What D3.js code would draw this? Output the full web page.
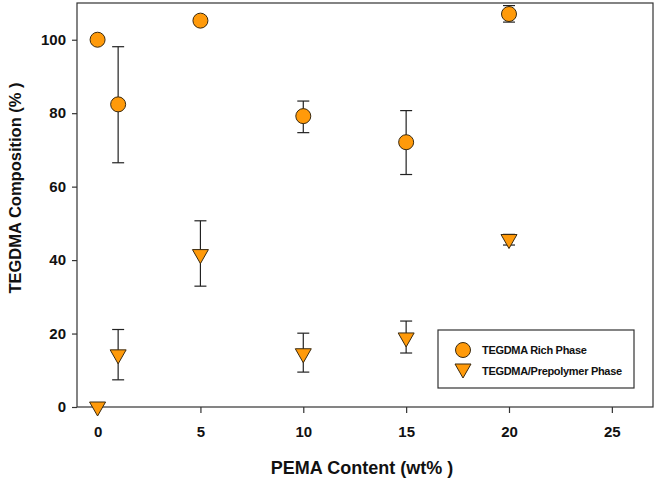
<!DOCTYPE html>
<html>
<head>
<meta charset="utf-8">
<script src="https://cdn.jsdelivr.net/npm/d3@7"></script>
<style>
  body { margin: 0; background: #fff; }
  text { font-family: "Liberation Sans", Arial, sans-serif; font-weight: bold; }
</style>
</head>
<body>
<script>
// PEMA content (wt%)
var pema = [0, 1, 5, 10, 15, 20];

// TEGDMA rich phase: mean, low, high
var richMean = [100, 82.4, 105.2, 79.2, 72.1, 107.0];
var richLow  = [100, 66.5, 105.2, 74.7, 63.3, 104.8];
var richHigh = [100, 98.1, 105.2, 83.3, 80.7, 109.3];

// TEGDMA/prepolymer phase
var preMean = [0, 14.2, 41.5, 14.5, 18.8, 45.6];
var preLow  = [0, 7.4, 32.9, 9.5, 14.7, 44.1];
var preHigh = [0, 21.1, 50.7, 20.1, 23.4, 47.0];

var xTicks = [0, 5, 10, 15, 20, 25];
var yTicks = [0, 20, 40, 60, 80, 100];

var fill = '#ff9a0a', edge = '#3a2a10', ink = '#333';

var svg = d3.select('body').append('svg').attr('width', 659).attr('height', 481);

var mLeft = 77, mRight = 653, mTop = 3, mBottom = 407;
var x = d3.scaleLinear().domain([-1, 27]).range([mLeft, mRight]);
var y = d3.scaleLinear().domain([0, 110]).range([mBottom, mTop]);

// frame
svg.append('rect')
  .attr('x', mLeft).attr('y', mTop)
  .attr('width', mRight - mLeft).attr('height', mBottom - mTop)
  .attr('fill', 'none').attr('stroke', ink).attr('stroke-width', 1.2);

var xAxis = svg.append('g').attr('transform', 'translate(0,' + mBottom + ')')
  .call(d3.axisBottom(x).tickValues(xTicks).tickSize(6).tickPadding(13));
var yAxis = svg.append('g').attr('transform', 'translate(' + mLeft + ',0)')
  .call(d3.axisLeft(y).tickValues(yTicks).tickSize(5).tickPadding(6));
[xAxis, yAxis].forEach(function(g) {
  g.select('.domain').remove();
  g.selectAll('line').attr('stroke', ink).attr('stroke-width', 1.2);
  g.selectAll('text').attr('font-size', 15).attr('fill', '#111')
    .style('font-family', '"Liberation Sans", Arial, sans-serif').style('font-weight', 'bold');
});

function errorBars(mean, lo, hi) {
  var g = svg.append('g').attr('stroke', '#222').attr('stroke-width', 1.2);
  pema.forEach(function(p, i) {
    if (hi[i] - lo[i] < 0.01) return;
    g.append('line').attr('x1', x(p)).attr('x2', x(p)).attr('y1', y(lo[i])).attr('y2', y(hi[i]));
    [lo[i], hi[i]].forEach(function(v) {
      g.append('line').attr('x1', x(p) - 6).attr('x2', x(p) + 6).attr('y1', y(v)).attr('y2', y(v));
    });
  });
}
errorBars(richMean, richLow, richHigh);
errorBars(preMean, preLow, preHigh);

var tri = 'M-8,-5L8,-5L0,9Z';

svg.selectAll('circle.rich').data(pema).enter().append('circle')
  .attr('cx', function(d) { return x(d); })
  .attr('cy', function(d, i) { return y(richMean[i]); })
  .attr('r', 7.5)
  .attr('fill', fill).attr('stroke', edge).attr('stroke-width', 1);

svg.selectAll('path.pre').data(pema).enter().append('path')
  .attr('d', tri)
  .attr('transform', function(d, i) { return 'translate(' + x(d) + ',' + y(preMean[i]) + ')'; })
  .attr('fill', fill).attr('stroke', edge).attr('stroke-width', 1);

// legend
var lg = svg.append('g');
lg.append('rect').attr('x', 438).attr('y', 330).attr('width', 196).attr('height', 58)
  .attr('fill', '#fff').attr('stroke', ink).attr('stroke-width', 1.2);
lg.append('circle').attr('cx', 463).attr('cy', 350).attr('r', 7.5)
  .attr('fill', fill).attr('stroke', edge);
lg.append('path').attr('d', tri).attr('transform', 'translate(463,369)')
  .attr('fill', fill).attr('stroke', edge);
var labels = ['TEGDMA Rich Phase', 'TEGDMA/Prepolymer Phase'];
lg.selectAll('text').data(labels).enter().append('text')
  .attr('x', 482).attr('y', function(d, i) { return 354 + i * 21; })
  .attr('font-size', 11).attr('fill', '#111').attr('letter-spacing', -0.3)
  .text(function(d) { return d; });

// axis titles
svg.append('text').attr('x', 362).attr('y', 474).attr('text-anchor', 'middle')
  .attr('font-size', 18).attr('fill', '#111').text('PEMA Content (wt% )');
svg.append('text').attr('transform', 'translate(21,188) rotate(-90)').attr('text-anchor', 'middle')
  .attr('font-size', 16.5).attr('fill', '#111').text('TEGDMA Composition (% )');
</script>
</body>
</html>
